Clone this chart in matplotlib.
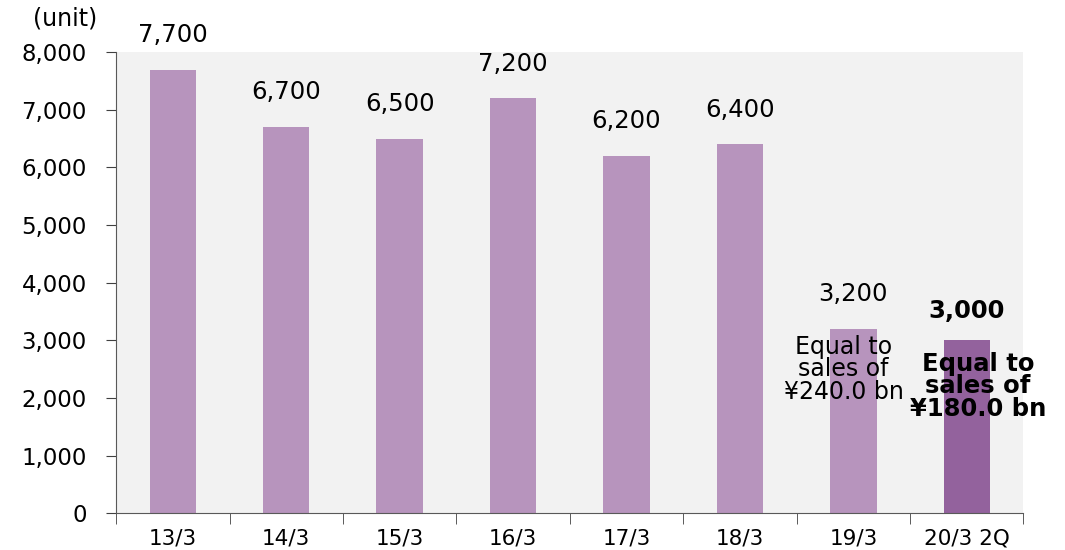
import numpy as np
import matplotlib.pyplot as plt
from matplotlib.ticker import FuncFormatter, FixedLocator

categories = ['13/3', '14/3', '15/3', '16/3', '17/3', '18/3', '19/3', '20/3 2Q']
units = [7700, 6700, 6500, 7200, 6200, 6400, 3200, 3000]
notes = {6: 'Equal to\nsales of\n¥240.0 bn', 7: 'Equal to\nsales of\n¥180.0 bn'}

bar_color = '#b794bd'
last_color = '#93629d'

fig = plt.figure(figsize=(10.65, 5.5), dpi=100)
ax = fig.add_axes([0.109, 0.067, 0.852, 0.838])
ax.set_facecolor('#f2f2f2')

x = np.arange(len(categories))
colors = [bar_color] * (len(units) - 1) + [last_color]
ax.bar(x, units, width=0.41, color=colors, zorder=2)

ax.set_xlim(-0.5, len(categories) - 0.5)
ax.set_ylim(0, 8000)
ax.set_yticks(np.arange(0, 8001, 1000))
ax.yaxis.set_major_formatter(FuncFormatter(lambda v, p: f'{int(v):,}'))
ax.set_xticks(x)
ax.set_xticklabels(categories)
ax.xaxis.set_minor_locator(FixedLocator(np.arange(-0.5, len(categories), 1)))
ax.tick_params(axis='x', which='major', length=0, labelsize=15.5, pad=11)
ax.tick_params(axis='x', which='minor', length=8, color='#404040', direction='out')
ax.tick_params(axis='y', length=7, color='#404040', labelsize=16.5, pad=14)

for s in ['top', 'right']:
    ax.spines[s].set_visible(False)
for s in ['left', 'bottom']:
    ax.spines[s].set_color('#595959')

for i, v in enumerate(units):
    bold = i == len(units) - 1
    ax.annotate(f'{v:,}', (i, v), xytext=(0, 21 if bold else 25), textcoords='offset points',
                ha='center', va='center', fontsize=17.5,
                fontweight='bold' if bold else 'normal', annotation_clip=False)

ax.annotate(notes[6], (6, units[6]), xytext=(-7, -29), textcoords='offset points',
            ha='center', va='center', fontsize=17, linespacing=0.92)
ax.annotate(notes[7], (7, units[7]), xytext=(8, -33), textcoords='offset points',
            ha='center', va='center', fontsize=17.5, fontweight='bold', linespacing=0.92,
            annotation_clip=False)

fig.text(0.061, 0.967, '(unit)', ha='center', va='center', fontsize=17)

fig.savefig('out.png', dpi=100)
